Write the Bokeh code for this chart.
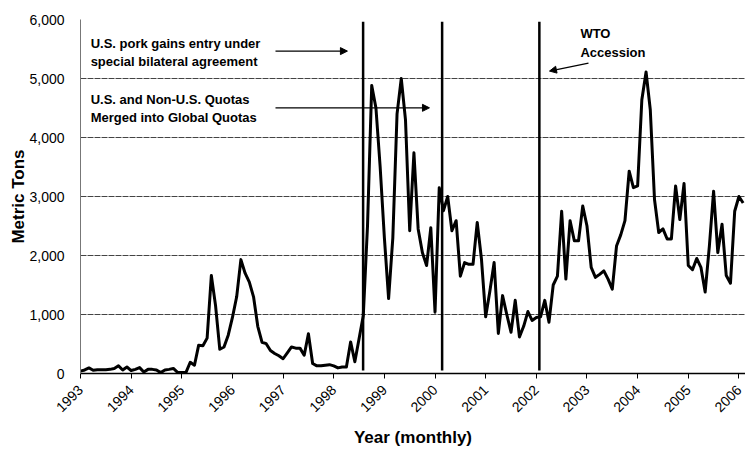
import math
from bokeh.plotting import figure
from bokeh.models import Arrow, NormalHead, Label, NumeralTickFormatter, FixedTicker
from bokeh.embed import file_html
from bokeh.resources import INLINE

# Monthly imports (metric tons), Jan 1993 - Feb 2006
t1993 = [40, 60, 95, 55, 65, 65, 65, 70, 85, 130, 60, 110]
t1994 = [50, 70, 100, 25, 70, 70, 60, 15, 60, 70, 85, 20]
t1995 = [15, 20, 190, 140, 480, 470, 600, 1660, 1150, 410, 450, 650]
t1996 = [950, 1300, 1930, 1700, 1550, 1300, 800, 530, 505, 390, 340, 300]
t1997 = [250, 350, 450, 430, 430, 310, 675, 170, 130, 130, 140, 150]
t1998 = [130, 95, 110, 110, 535, 200, 590, 980, 2500, 4880, 4500, 3500]
t1999 = [2300, 1270, 2300, 4400, 5000, 4300, 2420, 3740, 2450, 2050, 1830, 2470]
t2000 = [1040, 3150, 2760, 3000, 2420, 2590, 1650, 1880, 1850, 1850, 2560, 1940]
t2001 = [960, 1400, 1880, 680, 1320, 1000, 700, 1240, 620, 800, 1050, 900]
t2002 = [950, 960, 1240, 870, 1500, 1650, 2750, 1600, 2590, 2250, 2250, 2840]
t2003 = [2500, 1800, 1630, 1680, 1740, 1600, 1430, 2160, 2350, 2590, 3430, 3150]
t2004 = [3180, 4640, 5110, 4470, 2950, 2390, 2450, 2280, 2280, 3180, 2610, 3220]
t2005 = [1830, 1760, 1950, 1800, 1380, 2160, 3090, 2050, 2530, 1660, 1530, 2750]
t2006 = [3000, 2890]

years = list(range(1993, 2007))
series = [t1993, t1994, t1995, t1996, t1997, t1998, t1999, t2000,
          t2001, t2002, t2003, t2004, t2005, t2006]

xs, ys = [], []
for yr, vals in zip(years, series):
    for m, v in enumerate(vals):
        xs.append(yr + m / 12.0)
        ys.append(v)

# Policy events (vertical markers)
event_x = [1998.58, 2000.14, 2002.06]
event_top = [5960, 5960, 5960]
event_bottom = [50, 50, 50]

y_ticks = [0, 1000, 2000, 3000, 4000, 5000, 6000]
x_ticks = years

p = figure(width=745, height=449, x_range=(1993, 2006.13), y_range=(0, 6000),
           output_backend="svg", toolbar_location=None,
           min_border_left=80, min_border_right=0, min_border_top=19, min_border_bottom=74)

p.outline_line_color = None
p.background_fill_color = "white"
p.xgrid.grid_line_color = None
p.ygrid.grid_line_color = "#444444"
p.ygrid.grid_line_width = 1
p.ygrid.grid_line_dash = "6 1"

p.line(xs, ys, line_color="black", line_width=3, line_join="round")
p.segment(x0=event_x, y0=event_bottom, x1=event_x, y1=event_top,
          line_color="black", line_width=2.5)

p.xaxis.ticker = FixedTicker(ticks=x_ticks)
p.yaxis.ticker = FixedTicker(ticks=y_ticks)
p.yaxis.formatter = NumeralTickFormatter(format="0,0")
p.xaxis.major_label_orientation = math.pi / 4

for ax in (p.xaxis[0], p.yaxis[0]):
    ax.major_label_text_font = "Liberation Sans"
    ax.major_label_text_font_size = "14px"
    ax.major_label_text_color = "black"
    ax.axis_label_text_font = "Liberation Sans"
    ax.axis_label_text_font_style = "bold"
    ax.axis_label_text_font_size = "17px"
    ax.axis_label_text_color = "black"
    ax.minor_tick_line_color = None

p.xaxis.axis_label = "Year (monthly)"
p.yaxis.axis_label = "Metric Tons"
p.xaxis.axis_line_color = "black"
p.xaxis.axis_line_width = 1.5
p.xaxis.major_tick_line_color = "black"
p.xaxis.major_tick_out = 5
p.xaxis.major_tick_in = 0
p.xaxis.major_label_standoff = 9
p.xaxis.axis_label_standoff = 8
p.yaxis.axis_line_color = "#777777"
p.yaxis.major_tick_line_color = None
p.yaxis.major_label_standoff = 10
p.yaxis.axis_label_standoff = -2

# Annotations
notes = [
    (1993.2, 5599, "U.S. pork gains entry under"),
    (1993.2, 5295, "special bilateral agreement"),
    (1993.2, 4637, "U.S. and Non-U.S. Quotas"),
    (1993.2, 4334, "Merged into Global Quotas"),
    (2002.87, 5767, "WTO"),
    (2002.87, 5447, "Accession"),
]
for x, y, t in notes:
    p.add_layout(Label(x=x, y=y, text=t, text_font="Liberation Sans",
                       text_font_style="bold", text_font_size="13px",
                       text_color="black", text_baseline="middle", text_align="left"))

arrows = [
    (1996.85, 5464, 1998.27, 5464),
    (1996.85, 4503, 1999.89, 4503),
    (2003.03, 5261, 2002.26, 5126),
]
for x0, y0, x1, y1 in arrows:
    p.add_layout(Arrow(end=NormalHead(size=7, fill_color="black", line_color="black"),
                       x_start=x0, y_start=y0, x_end=x1, y_end=y1,
                       line_color="black", line_width=1.3))

open("out.html", "w").write(file_html(p, INLINE))
